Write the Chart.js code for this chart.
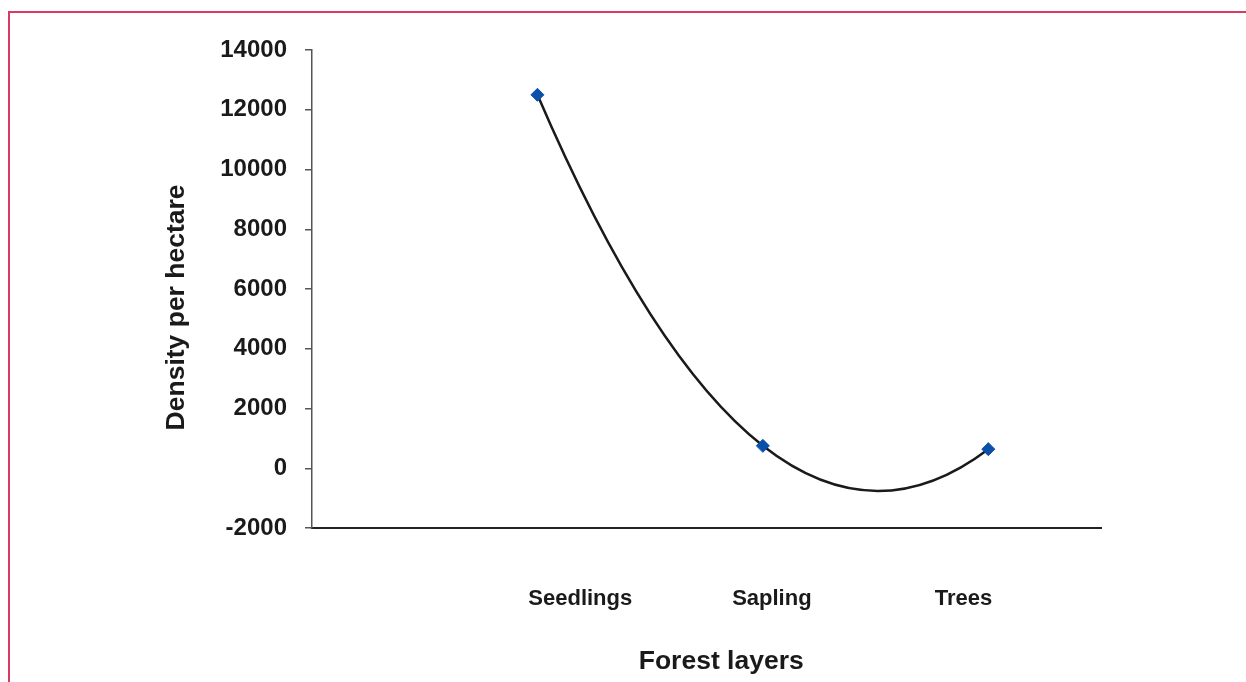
<!DOCTYPE html>
<html>
<head>
<meta charset="utf-8">
<script src="https://cdn.jsdelivr.net/npm/chart.js@4.4.1/dist/chart.umd.min.js"></script>
<style>
html, body { margin: 0; padding: 0; overflow: hidden; background: #fff; }
#frame { position: absolute; left: 8px; top: 11px; width: 1400px; height: 800px; border-top: 2px solid #d93a63; border-left: 2px solid #d93a63; }
#wrap { position: absolute; left: 0; top: 0; width: 1246px; height: 682px; }
</style>
</head>
<body>
<div id="frame"></div>
<div id="wrap"><canvas id="chart"></canvas></div>
<script>
const layers = ['Seedlings', 'Sapling', 'Trees'];
const layerPos = [1, 2, 3];
const labelPos = [1.19, 2.04, 2.89];   // where the layer names sit under the axis
const density = [12500, 750, 640];

const font = (size) => ({ family: '"Liberation Sans", Arial, sans-serif', weight: 'bold', size: size });

// smooth curve like the spreadsheet one: catmull-rom inside, quadratic ends
const smoothLine = {
    id: 'smoothLine',
    beforeDatasetDraw(chart, args) {
        const meta = args.meta;
        const line = meta.dataset;
        if (!line) return;
        line.updateControlPoints(chart.chartArea, meta.indexAxis);
        const p = meta.data;
        const n = p.length;
        if (n < 3) return;
        const t = [];
        for (let i = 1; i < n - 1; i++) {
            const tx = (p[i + 1].x - p[i - 1].x) / 6, ty = (p[i + 1].y - p[i - 1].y) / 6;
            p[i].cp1x = p[i].x - tx; p[i].cp1y = p[i].y - ty;
            p[i].cp2x = p[i].x + tx; p[i].cp2y = p[i].y + ty;
            t[i] = [tx, ty];
        }
        p[0].cp2x = p[0].x + 2 / 3 * (p[1].x - p[0].x) - t[1][0];
        p[0].cp2y = p[0].y + 2 / 3 * (p[1].y - p[0].y) - t[1][1];
        const L = n - 1;
        p[L].cp1x = p[L].x + 2 / 3 * (p[L - 1].x - p[L].x) + t[L - 1][0];
        p[L].cp1y = p[L].y + 2 / 3 * (p[L - 1].y - p[L].y) + t[L - 1][1];
        delete line._path;
    }
};

const ctx = document.getElementById('chart').getContext('2d');
const chart = new Chart(ctx, {
    type: 'scatter',
    data: {
        datasets: [{
            data: layerPos.map((x, i) => ({ x: x, y: density[i] })),
            showLine: true,
            tension: 0.4,
            borderColor: '#1a1a1a',
            borderWidth: 2.5,
            pointStyle: 'rectRot',
            pointRadius: 6.5,
            pointBackgroundColor: '#0a50aa',
            pointBorderColor: '#0a50aa',
            pointBorderWidth: 1
        }]
    },
    options: {
        responsive: true,
        maintainAspectRatio: false,
        animation: false,
        layout: { padding: { top: 50, right: 145, bottom: 0, left: 0 } },
        plugins: { legend: { display: false }, tooltip: { enabled: false } },
        scales: {
            x: {
                type: 'linear', min: 0, max: 3.5,
                afterBuildTicks: (s) => { s.ticks = labelPos.map(v => ({ value: v })); },
                afterFit: (s) => { s.height = 154; },
                ticks: {
                    callback: (v) => layers[labelPos.indexOf(v)] || '',
                    font: font(22), color: '#1a1a1a', padding: 58, maxRotation: 0, autoSkip: false
                },
                grid: { display: false, drawTicks: false },
                border: { display: true, color: '#222', width: 2 },
                title: { display: true, text: '    Forest layers', font: font(26.5), color: '#1a1a1a', padding: { top: 0, bottom: 4 } }
            },
            y: {
                min: -2000, max: 14000,
                afterFit: (s) => { s.width = 312; },
                ticks: { stepSize: 2000, callback: (v) => String(v), font: font(24), color: '#1a1a1a', padding: 18 },
                grid: { drawOnChartArea: false, drawTicks: true, tickLength: 7, color: '#555', lineWidth: 1.5 },
                border: { color: '#555', width: 1.5 },
                title: { display: true, text: 'Density per hectare     ', font: font(26.5), color: '#1a1a1a', padding: { top: 161, bottom: 0 } }
            }
        }
    },
    plugins: [smoothLine]
});
</script>
</body>
</html>
